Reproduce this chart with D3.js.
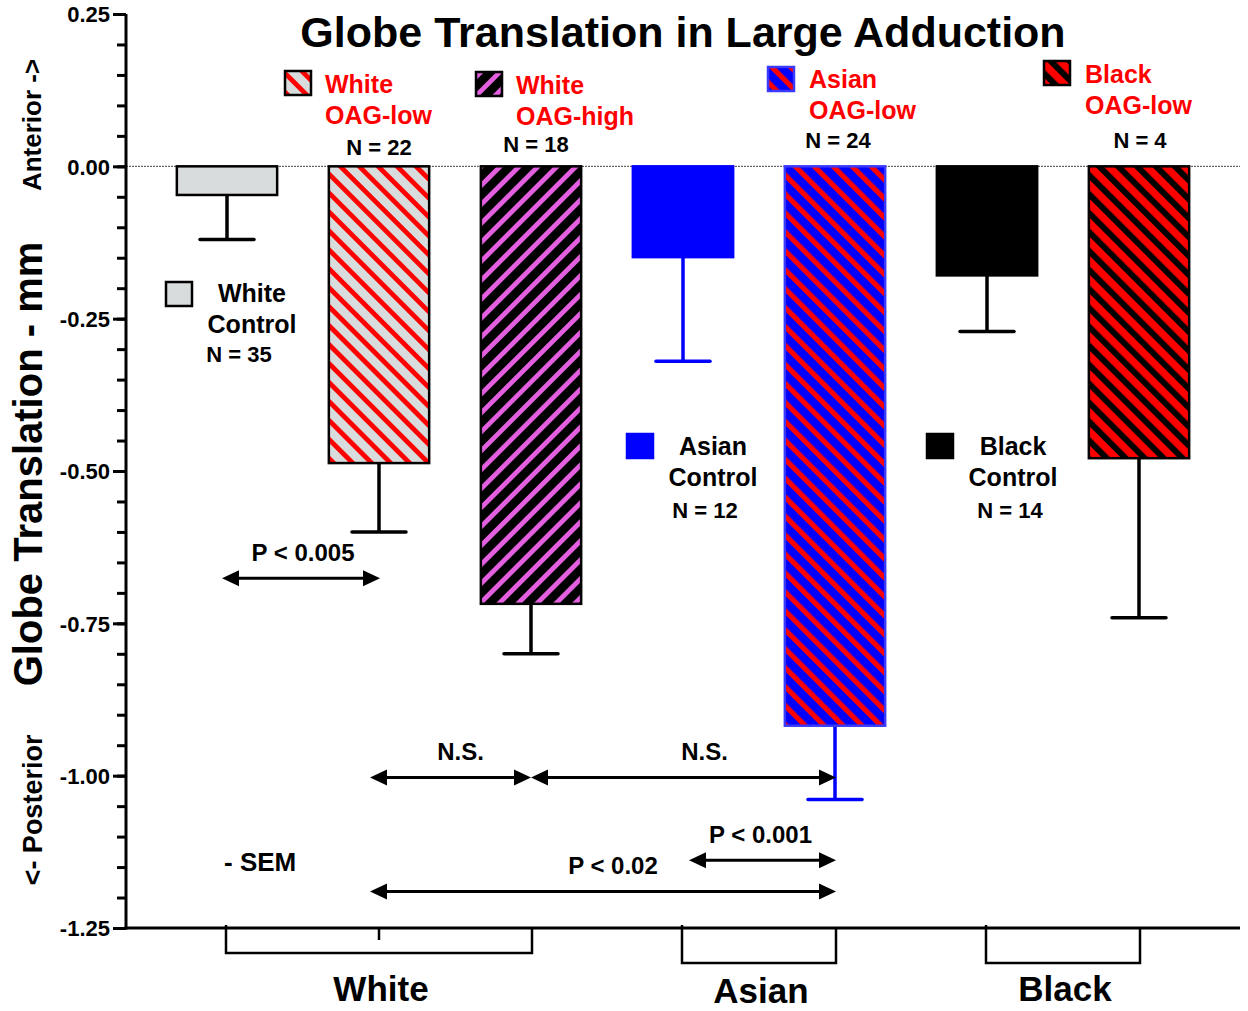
<!DOCTYPE html>
<html lang="en">
<head>
    <meta charset="UTF-8">
    <title>Globe Translation in Large Adduction</title>
    <script src="https://d3js.org/d3.v7.min.js"></script>
    <style>
        body, html { margin: 0; padding: 0; background: #fff; overflow: hidden; }
        svg text { font-family: "Liberation Sans", Arial, sans-serif; font-weight: bold; }
    </style>
</head>
<body>
    <div id="chart"></div>
    <script>
        // data
        var categories = ["White Control", "White OAG-low", "White OAG-high", "Asian Control",
                          "Asian OAG-low", "Black Control", "Black OAG-low"];
        var means = [-0.047, -0.487, -0.718, -0.149, -0.918, -0.179, -0.479];
        var sems = [0.073, 0.113, 0.082, 0.171, 0.121, 0.092, 0.262];
        var nCounts = ["N = 35", "N = 22", "N = 18", "N = 12", "N = 24", "N = 14", "N = 4"];
        var majorTicks = [-1.25, -1.00, -0.75, -0.50, -0.25, 0.00, 0.25];
        var groups = ["White", "Asian", "Black"];
        var groupMembers = [["White Control", "White OAG-low", "White OAG-high"],
                            ["Asian Control", "Asian OAG-low"],
                            ["Black Control", "Black OAG-low"]];
        // comparisons: from / to category, label, y position (mm)
        var comparisons = [
            {from: "White Control", to: "White OAG-low", label: "P < 0.005", y: -0.676, dx0: -5, dx1: 1, lx: 0},
            {from: "White OAG-low", to: "White OAG-high", label: "N.S.", y: -1.003, dx0: -9, dx1: 0, lx: 8},
            {from: "White OAG-high", to: "Asian OAG-low", label: "N.S.", y: -1.003, dx0: 0, dx1: 1, lx: 19},
            {from: "Asian Control", to: "Asian OAG-low", label: "P < 0.001", y: -1.139, dx0: 6, dx1: 1, lx: -4},
            {from: "White OAG-low", to: "Asian OAG-low", label: "P < 0.02", y: -1.19, dx0: -9, dx1: 1, lx: 8}
        ];

        var W = 1248, H = 1011;
        var svg = d3.select("#chart").append("svg").attr("width", W).attr("height", H);

        var y = d3.scaleLinear().domain([-1.25, 0.25]).range([928, 14]);
        var x = d3.scaleBand().domain(categories).range([151, 1215])
            .paddingInner(0.34).paddingOuter(0.17);
        var cx = function(c) { return x(c) + x.bandwidth() / 2; };

        var red = "#ff0000", blue = "#0000ff", grey = "#d8dcdc", violet = "#e35fe0";

        // hatch patterns
        var defs = svg.append("defs");
        function hatch(id, bg, fg, sw, angle) {
            var p = defs.append("pattern").attr("id", id)
                .attr("patternUnits", "userSpaceOnUse")
                .attr("width", 13.4).attr("height", 13.4)
                .attr("patternTransform", "rotate(" + angle + ")");
            p.append("rect").attr("width", 13.4).attr("height", 13.4).attr("fill", bg);
            p.append("rect").attr("width", sw).attr("height", 13.4).attr("fill", fg);
        }
        hatch("pWL", grey, red, 4.8, -45);
        hatch("pWH", "#000", violet, 4.8, 45);
        hatch("pAL", blue, red, 5.2, -45);
        hatch("pBL", red, "#000", 6, -45);

        var styles = {
            "White Control": {fill: grey, stroke: "#000", err: "#000"},
            "White OAG-low": {fill: "url(#pWL)", stroke: "#000", err: "#000"},
            "White OAG-high": {fill: "url(#pWH)", stroke: "#000", err: "#000"},
            "Asian Control": {fill: blue, stroke: blue, err: blue},
            "Asian OAG-low": {fill: "url(#pAL)", stroke: "#3a3aff", err: blue},
            "Black Control": {fill: "#000", stroke: "#000", err: "#000"},
            "Black OAG-low": {fill: "url(#pBL)", stroke: "#000", err: "#000"}
        };

        var rows = categories.map(function(c, i) { return {cat: c, mean: means[i], sem: sems[i]}; });

        // zero line
        svg.append("line")
            .attr("x1", 126).attr("x2", 1240).attr("y1", y(0)).attr("y2", y(0))
            .attr("stroke", "#444").attr("stroke-width", 1).attr("stroke-dasharray", "2,1");

        // error bars (drawn below bars)
        var eb = svg.append("g").selectAll("g").data(rows).enter().append("g");
        eb.append("line")
            .attr("x1", function(d) { return cx(d.cat); }).attr("x2", function(d) { return cx(d.cat); })
            .attr("y1", function(d) { return y(d.mean); })
            .attr("y2", function(d) { return y(d.mean - d.sem); })
            .attr("stroke", function(d) { return styles[d.cat].err; }).attr("stroke-width", 3.5);
        eb.append("line")
            .attr("x1", function(d) { return cx(d.cat) - 27; }).attr("x2", function(d) { return cx(d.cat) + 27; })
            .attr("y1", function(d) { return y(d.mean - d.sem); })
            .attr("y2", function(d) { return y(d.mean - d.sem); })
            .attr("stroke", function(d) { return styles[d.cat].err; }).attr("stroke-width", 3.5)
            .attr("stroke-linecap", "round");

        // bars
        svg.append("g").selectAll("rect").data(rows).enter().append("rect")
            .attr("x", function(d) { return x(d.cat); })
            .attr("y", y(0))
            .attr("width", x.bandwidth())
            .attr("height", function(d) { return y(d.mean) - y(0); })
            .attr("fill", function(d) { return styles[d.cat].fill; })
            .attr("stroke", function(d) { return styles[d.cat].stroke; })
            .attr("stroke-width", 2.5);

        // y axis: minor and major ticks
        svg.append("g").attr("transform", "translate(126,0)")
            .call(d3.axisLeft(y).tickValues(d3.range(-25, 6).map(function(v) { return v * 0.05; }))
                .tickSize(9).tickFormat(""))
            .call(function(g) { g.select(".domain").remove(); })
            .selectAll("line").attr("stroke", "#000").attr("stroke-width", 3);
        var ya = svg.append("g").attr("transform", "translate(126,0)")
            .call(d3.axisLeft(y).tickValues(majorTicks).tickSize(13).tickPadding(3)
                .tickFormat(function(d) { return d.toFixed(2); }));
        ya.select(".domain").attr("stroke-width", 3).attr("d", "M0," + y(0.25) + "V" + (y(-1.25) + 1.5));
        ya.selectAll("line").attr("stroke-width", 3);
        ya.selectAll("text").style("font-size", "22px").attr("fill", "#000").attr("dy", "0.36em");

        // x axis line
        svg.append("line").attr("x1", 124.5).attr("x2", 1240).attr("y1", y(-1.25)).attr("y2", y(-1.25))
            .attr("stroke", "#000").attr("stroke-width", 3);

        // group brackets and labels
        var depth = [25, 35, 35];
        groups.forEach(function(g, i) {
            var mem = groupMembers[i];
            var x0 = cx(mem[0]) - 1, x1 = cx(mem[mem.length - 1]) + 1;
            var yb = y(-1.25) + depth[i];
            svg.append("path")
                .attr("d", "M" + x0 + "," + (y(-1.25) - 3) + "V" + yb + "H" + x1 + "V" + y(-1.25))
                .attr("fill", "none").attr("stroke", "#000").attr("stroke-width", 2.5);
            if (mem.length === 3) {
                svg.append("line").attr("x1", cx(mem[1])).attr("x2", cx(mem[1]))
                    .attr("y1", y(-1.25)).attr("y2", y(-1.25) + 12)
                    .attr("stroke", "#000").attr("stroke-width", 2.5);
            }
            svg.append("text").attr("x", (x0 + x1) / 2 + 2).attr("y", i === 1 ? 1003 : 1001)
                .attr("text-anchor", "middle").style("font-size", "35px").text(g);
        });

        // title and axis labels
        svg.append("text").attr("x", 683).attr("y", 47).attr("text-anchor", "middle")
            .style("font-size", "43px").text("Globe Translation in Large Adduction");
        svg.append("text").attr("transform", "translate(42,464) rotate(-90)")
            .attr("text-anchor", "middle").style("font-size", "40px").text("Globe Translation - mm");
        svg.append("text").attr("transform", "translate(41,125) rotate(-90)")
            .attr("text-anchor", "middle").style("font-size", "26px").text("Anterior ->");
        svg.append("text").attr("transform", "translate(42,810) rotate(-90)")
            .attr("text-anchor", "middle").style("font-size", "27px").text("<- Posterior");

        // legends
        var legendPos = {
            "White OAG-low":  {sx: 285, sy: 71, tx: 325, ty: 93, nx: 379, ny: 155, red: true},
            "White OAG-high": {sx: 476, sy: 72, tx: 516, ty: 94, nx: 536, ny: 152, red: true},
            "Asian OAG-low":  {sx: 768, sy: 67, tx: 809, ty: 88, nx: 838, ny: 148, red: true},
            "Black OAG-low":  {sx: 1044, sy: 61, tx: 1085, ty: 83, nx: 1140, ny: 148, red: true},
            "White Control":  {sx: 166, sy: 282, tx: 252, ty: 302, nx: 239, ny: 362, red: false},
            "Asian Control":  {sx: 627, sy: 434, tx: 713, ty: 455, nx: 705, ny: 518, red: false},
            "Black Control":  {sx: 927, sy: 434, tx: 1013, ty: 455, nx: 1010, ny: 518, red: false}
        };
        categories.forEach(function(c, i) {
            var p = legendPos[c], st = styles[c];
            var parts = c.split(" ");
            svg.append("rect").attr("x", p.sx).attr("y", p.sy).attr("width", 26).attr("height", 24)
                .attr("fill", st.fill).attr("stroke", st.stroke).attr("stroke-width", 2.5);
            var anchor = p.red ? "start" : "middle";
            var col = p.red ? red : "#000";
            svg.append("text").attr("x", p.tx).attr("y", p.ty).attr("text-anchor", anchor)
                .attr("fill", col).style("font-size", "25px").text(parts[0]);
            svg.append("text").attr("x", p.tx).attr("y", p.ty + 31).attr("text-anchor", anchor)
                .attr("fill", col).style("font-size", "25px").text(parts[1]);
            svg.append("text").attr("x", p.nx).attr("y", p.ny).attr("text-anchor", "middle")
                .style("font-size", "22px").text(nCounts[i]);
        });

        // comparison arrows
        function arrow(xa, xb, yy) {
            var g = svg.append("g");
            g.append("line").attr("x1", xa + 12).attr("x2", xb - 12).attr("y1", yy).attr("y2", yy)
                .attr("stroke", "#000").attr("stroke-width", 3);
            g.append("path").attr("d", "M" + xa + "," + yy + "l17,-8v16z").attr("fill", "#000");
            g.append("path").attr("d", "M" + xb + "," + yy + "l-17,-8v16z").attr("fill", "#000");
        }
        comparisons.forEach(function(c) {
            var xa = cx(c.from) + c.dx0, xb = cx(c.to) + c.dx1;
            arrow(xa, xb, y(c.y));
            svg.append("text").attr("x", (xa + xb) / 2 + 2 + c.lx).attr("y", y(c.y) - 17)
                .attr("text-anchor", "middle").style("font-size", "24px").text(c.label);
        });

        svg.append("text").attr("x", 224).attr("y", 871).style("font-size", "26px").text("- SEM");
    </script>
</body>
</html>
